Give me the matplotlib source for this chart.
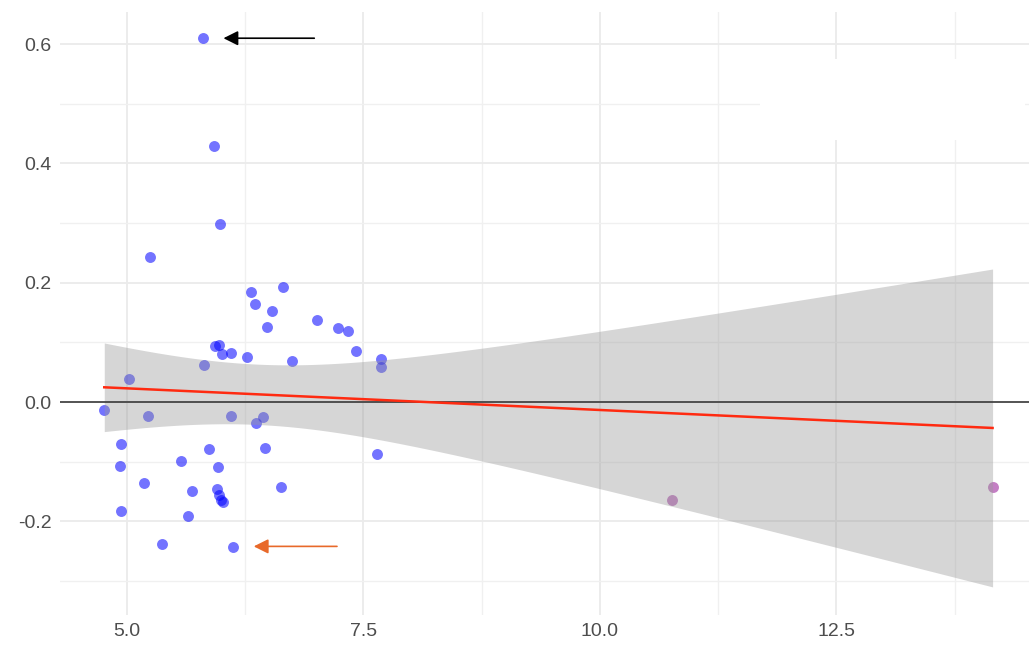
import numpy as np
import matplotlib.pyplot as plt
from matplotlib.patches import Rectangle

plt.rcParams['font.family'] = ['Liberation Sans', 'DejaVu Sans']

# Observations (blue) and the two flagged outliers (purple)
x_main = [5.80, 5.92, 5.98, 5.24, 6.31, 6.35, 6.53, 6.65, 6.48, 7.01,
          7.23, 7.34, 7.42, 7.68, 7.69, 6.74, 6.27, 6.10, 6.00, 5.93,
          5.97, 5.81, 5.02, 4.76, 5.22, 6.10, 6.44, 6.36, 4.94, 5.87,
          6.46, 4.93, 5.57, 5.96, 7.64, 5.18, 5.69, 5.95, 5.97, 5.99,
          6.01, 6.63, 4.94, 5.64, 5.37, 6.12]
y_main = [0.610, 0.429, 0.298, 0.243, 0.184, 0.164, 0.153, 0.193, 0.125, 0.137,
          0.124, 0.119, 0.086, 0.072, 0.059, 0.069, 0.075, 0.082, 0.081, 0.094,
          0.095, 0.062, 0.039, -0.013, -0.023, -0.023, -0.025, -0.035, -0.070, -0.079,
          -0.077, -0.107, -0.099, -0.109, -0.087, -0.136, -0.149, -0.146, -0.156, -0.164,
          -0.168, -0.143, -0.183, -0.191, -0.238, -0.243]
x_flag = [10.76, 14.15]
y_flag = [-0.164, -0.142]

T_975 = 2.0129  # t quantile, df = 46

x_all = np.array(x_main + x_flag)
y_all = np.array(y_main + y_flag)

# linear fit with 95% confidence band
n = len(x_all)
slope, icept = np.polyfit(x_all, y_all, 1)
resid = y_all - (slope * x_all + icept)
s_err = np.sqrt(np.sum(resid ** 2) / (n - 2))
x_fit = np.linspace(x_all.min(), x_all.max(), 200)
y_fit = slope * x_fit + icept
se_fit = s_err * np.sqrt(1 / n + (x_fit - x_all.mean()) ** 2 / np.sum((x_all - x_all.mean()) ** 2))

fig = plt.figure(figsize=(10.29, 6.47), dpi=100)
ax = fig.add_axes([0.0583, 0.0495, 0.9417, 0.932])

ax.set_xlim(4.292, 14.535)
ax.set_ylim(-0.357, 0.654)
ax.set_xticks([5.0, 7.5, 10.0, 12.5])
ax.set_xticks([6.25, 8.75, 11.25, 13.75], minor=True)
ax.set_yticks([-0.2, 0.0, 0.2, 0.4, 0.6])
ax.set_yticks([-0.3, -0.1, 0.1, 0.3, 0.5], minor=True)
ax.set_xticklabels(['5.0', '7.5', '10.0', '12.5'])
ax.set_yticklabels(['-0.2', '0.0', '0.2', '0.4', '0.6'])
ax.grid(which='major', color='#ebebeb', lw=1.3, zorder=0)
ax.grid(which='minor', color='#f0f0f0', lw=1.0, zorder=0)
ax.set_axisbelow(True)
for sp in ax.spines.values():
    sp.set_visible(False)
ax.tick_params(which='both', length=0, labelsize=14, labelcolor='#4d4d4d', pad=6)

# patch over part of the upper right grid
ax.add_patch(Rectangle((11.69, 0.439), 2.80, 0.136, facecolor='white',
                       edgecolor='none', zorder=1))

ax.scatter(x_main, y_main, s=62, color='blue', alpha=0.55, lw=0, zorder=2)
ax.scatter(x_flag, y_flag, s=62, color='#8b008b', alpha=0.5, lw=0, zorder=2)

ax.fill_between(x_fit, y_fit - T_975 * se_fit, y_fit + T_975 * se_fit,
                color='#999999', alpha=0.4, lw=0, zorder=3)
ax.axhline(0, color='#3a3a3a', lw=1.2, zorder=4)
ax.plot(x_fit, y_fit, color='#ff2a10', lw=1.8, zorder=5)

# arrows pointing at the extreme points
ax.annotate('', xy=(6.02, 0.610), xytext=(6.98, 0.610),
            arrowprops=dict(arrowstyle='-|>', color='black', lw=1.2,
                            mutation_scale=22, shrinkA=0, shrinkB=0))
ax.annotate('', xy=(6.34, -0.242), xytext=(7.22, -0.242),
            arrowprops=dict(arrowstyle='-|>', color='#e8692a', lw=1.2,
                            mutation_scale=22, shrinkA=0, shrinkB=0))

fig.savefig('out.png', dpi=100)
